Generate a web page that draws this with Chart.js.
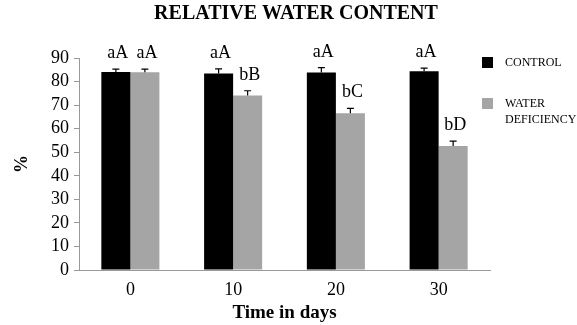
<!DOCTYPE html>
<html>
<head>
<meta charset="utf-8">
<script src="https://cdn.jsdelivr.net/npm/chart.js@4/dist/chart.umd.min.js"></script>
<style>
  html, body { margin: 0; padding: 0; background: #fff; }
  #wrap { width: 577px; height: 325px; }
</style>
</head>
<body>
<div id="wrap"><canvas id="chart"></canvas></div>
<script>
// DATA
const chartTitle = "RELATIVE WATER CONTENT";
const days = ["0", "10", "20", "30"];
const controlValues = [84.1, 83.4, 83.9, 84.4];
const deficiencyValues = [84.0, 74.1, 66.6, 52.7];
const controlErrors = [1.2, 2.0, 2.0, 1.3];
const deficiencyErrors = [1.3, 2.0, 2.0, 2.0];
const controlLetters = ["aA", "aA", "aA", "aA"];
const deficiencyLetters = ["aA", "bB", "bC", "bD"];
const legendLines = [["CONTROL"], ["WATER", "DEFICIENCY"]];

const SERIF = "'Liberation Serif', 'DejaVu Serif', serif";

// title sits off-centre in the original, so draw it ourselves
const topTitle = {
    id: "topTitle",
    afterDraw(chart) {
        const { ctx } = chart;
        ctx.save();
        ctx.fillStyle = "#000";
        ctx.font = `bold 20px ${SERIF}`;
        ctx.textAlign = "center";
        ctx.textBaseline = "middle";
        ctx.fillText(chartTitle, 296, 14);
        ctx.restore();
    },
};

// error bars (upper half only) and significance letters
const barExtras = {
    id: "barExtras",
    afterDatasetsDraw(chart) {
        const { ctx } = chart;
        const yScale = chart.scales.y;
        ctx.save();
        chart.data.datasets.forEach((dataset, i) => {
            const meta = chart.getDatasetMeta(i);
            meta.data.forEach((bar, j) => {
                const value = dataset.data[j];
                const yTop = yScale.getPixelForValue(value + dataset.errors[j]);
                ctx.strokeStyle = "#000";
                ctx.lineWidth = 1.2;
                ctx.beginPath();
                ctx.moveTo(bar.x, bar.y);
                ctx.lineTo(bar.x, yTop);
                ctx.moveTo(bar.x - 3.5, yTop);
                ctx.lineTo(bar.x + 3.5, yTop);
                ctx.stroke();

                ctx.fillStyle = "#000";
                ctx.font = `18px ${SERIF}`;
                ctx.textAlign = "center";
                ctx.textBaseline = "alphabetic";
                ctx.fillText(dataset.letters[j], bar.x + 2, yTop - 11);
            });
        });
        ctx.restore();
    },
};

// legend on the right with wrapped labels
const sideLegend = {
    id: "sideLegend",
    afterDraw(chart) {
        const { ctx, chartArea } = chart;
        const x = chartArea.right - 8;
        const rows = [57, 98];
        ctx.save();
        chart.data.datasets.forEach((dataset, i) => {
            const y = rows[i];
            ctx.fillStyle = dataset.backgroundColor;
            ctx.fillRect(x, y, 11, 11);
            ctx.fillStyle = "#000";
            ctx.font = `12px ${SERIF}`;
            ctx.textAlign = "left";
            ctx.textBaseline = "middle";
            dataset.legendLines.forEach((line, k) => {
                ctx.fillText(line, x + 23, y + 5.5 + k * 16);
            });
        });
        ctx.restore();
    },
};

const data = {
    labels: days,
    datasets: [
        {
            label: "CONTROL",
            data: controlValues,
            errors: controlErrors,
            letters: controlLetters,
            legendLines: legendLines[0],
            backgroundColor: "#000000",
        },
        {
            label: "WATER DEFICIENCY",
            data: deficiencyValues,
            errors: deficiencyErrors,
            letters: deficiencyLetters,
            legendLines: legendLines[1],
            backgroundColor: "#a5a5a5",
        },
    ],
};

const config = {
    type: "bar",
    data,
    plugins: [topTitle, barExtras, sideLegend],
    options: {
        responsive: true,
        maintainAspectRatio: false,
        animation: false,
        datasets: {
            bar: { categoryPercentage: 0.565, barPercentage: 1 },
        },
        layout: { padding: { left: 8, right: 87, top: 58, bottom: 0 } },
        plugins: {
            legend: { display: false },
            tooltip: { enabled: false },
            title: { display: false },
        },
        scales: {
            x: {
                grid: { display: false, drawTicks: false },
                border: { display: true, color: "#999" },
                ticks: {
                    color: "#000",
                    padding: 9,
                    font: { family: SERIF, size: 18 },
                },
                title: {
                    display: true,
                    text: "Time in days",
                    color: "#000",
                    font: { family: SERIF, size: 19, weight: "bold" },
                    padding: { top: -8, bottom: 0.5 },
                },
            },
            y: {
                min: 0,
                max: 90,
                afterFit(scale) {
                    scale.width = 71;
                },
                grid: { drawOnChartArea: false, drawTicks: true, tickLength: 5, color: "#999" },
                border: { display: true, color: "#999" },
                ticks: {
                    stepSize: 10,
                    autoSkip: false,
                    color: "#000",
                    padding: 5,
                    font: { family: SERIF, size: 18 },
                },
                title: {
                    display: true,
                    text: "%",
                    color: "#000",
                    font: { family: SERIF, size: 18, weight: "bold" },
                    padding: { top: 4, bottom: 0 },
                },
            },
        },
    },
};

const chart = new Chart(document.getElementById("chart"), config);
</script>
</body>
</html>
